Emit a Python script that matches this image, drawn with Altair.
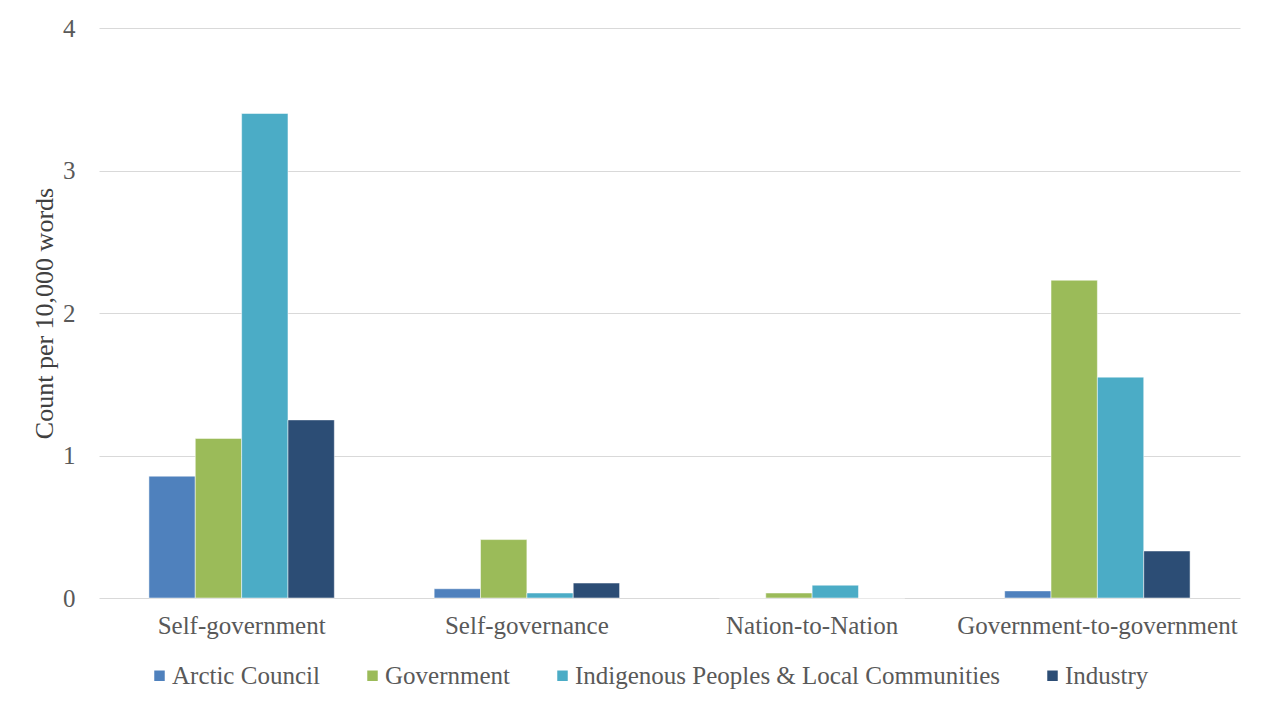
import altair as alt
import pandas as pd

categories = ["Self-government", "Self-governance", "Nation-to-Nation", "Government-to-government"]
series = ["Arctic Council", "Government", "Indigenous Peoples & Local Communities", "Industry"]
colors = ["#4F81BD", "#9BBB59", "#4BACC6", "#2C4D75"]

arctic_council = [0.855, 0.065, 0.0, 0.05]
government = [1.12, 0.41, 0.035, 2.23]
iplc = [3.40, 0.035, 0.09, 1.55]
industry = [1.25, 0.105, 0.0, 0.33]

rows = []
for s, vals in zip(series, [arctic_council, government, iplc, industry]):
    for c, v in zip(categories, vals):
        rows.append({"category": c, "series": s, "value": v})
df = pd.DataFrame(rows)

FONT = "Liberation Serif"
FS = 25

bars = alt.Chart(df).mark_bar(stroke="white", strokeWidth=0.5).encode(
    x=alt.X("category:N", sort=categories, title=None,
            scale=alt.Scale(paddingInner=0.35, paddingOuter=0.175),
            axis=alt.Axis(labelAngle=0, labelFontSize=FS, labelFont=FONT, labelColor="#595959",
                          labelPadding=15, ticks=False, domain=False, labelLimit=500)),
    xOffset=alt.XOffset("series:N", sort=series),
    y=alt.Y("value:Q", title="Count per 10,000 words",
            scale=alt.Scale(domain=[0, 4]),
            axis=alt.Axis(values=[0, 1, 2, 3, 4], format="d", labelFontSize=FS, labelFont=FONT,
                          labelColor="#595959", labelPadding=24, ticks=False, domain=False,
                          gridColor="#D9D9D9", gridWidth=1,
                          titleFont=FONT, titleFontSize=26, titleFontWeight="normal",
                          titleColor="#404040", titlePadding=5)),
    color=alt.Color("series:N", sort=series, scale=alt.Scale(domain=series, range=colors),
                    legend=alt.Legend(title=None, orient="none", direction="horizontal",
                                      legendX=48, legendY=635,
                                      symbolType="square", symbolSize=110, symbolStrokeWidth=0,
                                      labelFont=FONT, labelFontSize=FS, labelColor="#595959",
                                      columnPadding=40, labelOffset=0, labelLimit=600)),
)

chart = bars.properties(
    width=1141, height=570,
    background="white",
    autosize=alt.AutoSizeParams(type="none"),
    padding={"left": 91, "top": 20, "right": 17, "bottom": 111},
).configure_view(strokeWidth=0)

chart.save("out.html", embed_options={"renderer": "svg", "actions": False})
